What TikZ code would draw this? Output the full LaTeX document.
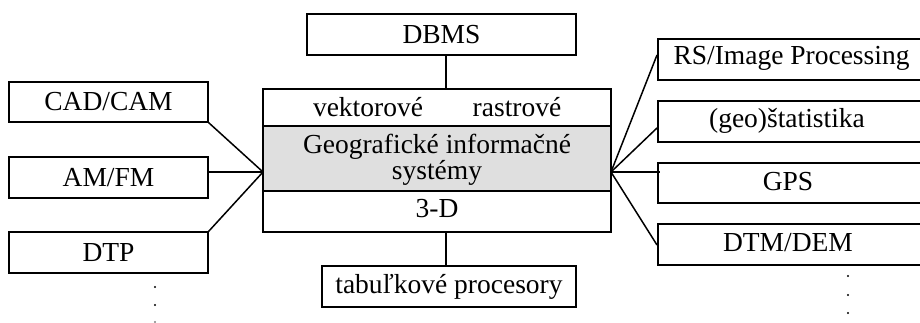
\documentclass[tikz,border=0pt]{standalone}
\usepackage{fontspec}
\setmainfont{Liberation Serif}
\begin{document}
\begin{tikzpicture}[x=1pt,y=-1pt,
  box/.style={draw=black,line width=1.5pt,inner sep=0pt,font=\fontsize{27.5}{31}\selectfont},
  lbl/.style={inner sep=0pt,font=\fontsize{27.5}{31}\selectfont},
  conn/.style={line width=1.5pt},
  dot/.style={circle,fill=black,inner sep=0pt,minimum size=2.4pt}]
\useasboundingbox (0,0) rectangle (920,323);
% central system
\node[box,fill=gray!25,minimum width=348pt,minimum height=65pt] (gis) at (437,158.5) {};
\node[box,minimum width=348pt,minimum height=37pt] (top) at (437,107.5) {};
\node[box,minimum width=348pt,minimum height=41pt] (bot) at (437,211.5) {};
\node[lbl] (vek) at (368,107) {vektorové};
\node[lbl] (ras) at (517,107) {rastrové};
\node[lbl,align=center] (gtx) at (437,160) {Geografické informačné\\[-5pt]systémy};
\node[lbl] (td) at (437,209) {3-D};
\coordinate (L) at (263,172);
\coordinate (R) at (611,172);
% top and bottom
\node[box,minimum width=269pt,minimum height=41pt] (dbms) at (441.5,34.5) {DBMS};
\node[box,minimum width=254pt,minimum height=41pt] (tab) at (449,286.5) {tabuľkové procesory};
\draw[conn] (dbms.south -| 446,0) -- (top.north -| 446,0);
\draw[conn] (bot.south -| 446,0) -- (tab.north -| 446,0);
% left
\node[box,minimum width=199pt,minimum height=40pt] (cad) at (108.5,102) {CAD/CAM};
\node[box,minimum width=199pt,minimum height=41pt] (am) at (108.5,177.5) {AM/FM};
\node[box,minimum width=199pt,minimum height=41pt] (dtp) at (108.5,252.5) {DTP};
\draw[conn] (cad.south east) -- (L);
\draw[conn] (am.east |- L) -- (L);
\draw[conn] (dtp.north east) -- (L);
\node[dot] (ld1) at (155,287) {};
\node[dot] (ld2) at (155,305) {};
\node[dot,fill=black!50] (ld3) at (155,322) {};
% right
\node[box,minimum width=273pt,minimum height=41pt,anchor=west] (rs) at (657,59.5) {};
\node[lbl] (rst) at (791.5,58) {RS/Image Processing};
\node[box,minimum width=273pt,minimum height=41pt,anchor=west] (geo) at (657,121.5) {};
\node[lbl] (geot) at (787,121) {(geo)štatistika};
\node[box,minimum width=273pt,minimum height=40pt,anchor=west] (gps) at (657,183) {};
\node[lbl] (gpst) at (788,182) {GPS};
\node[box,minimum width=273pt,minimum height=41pt,anchor=west] (dtm) at (657,244.5) {};
\node[lbl] (dtmt) at (788,243) {DTM/DEM};
\draw[conn] (R) -- (rs.west |- 0,55);
\draw[conn] (R) -- (geo.west |- 0,128);
\draw[conn] (R) -- ([xshift=3pt]gps.west |- R);
\draw[conn] (R) -- (dtm.west |- 0,245);
\node[dot] (rd1) at (848,276) {};
\node[dot] (rd2) at (848,295) {};
\node[dot] (rd3) at (848,313) {};
\end{tikzpicture}
\end{document}
